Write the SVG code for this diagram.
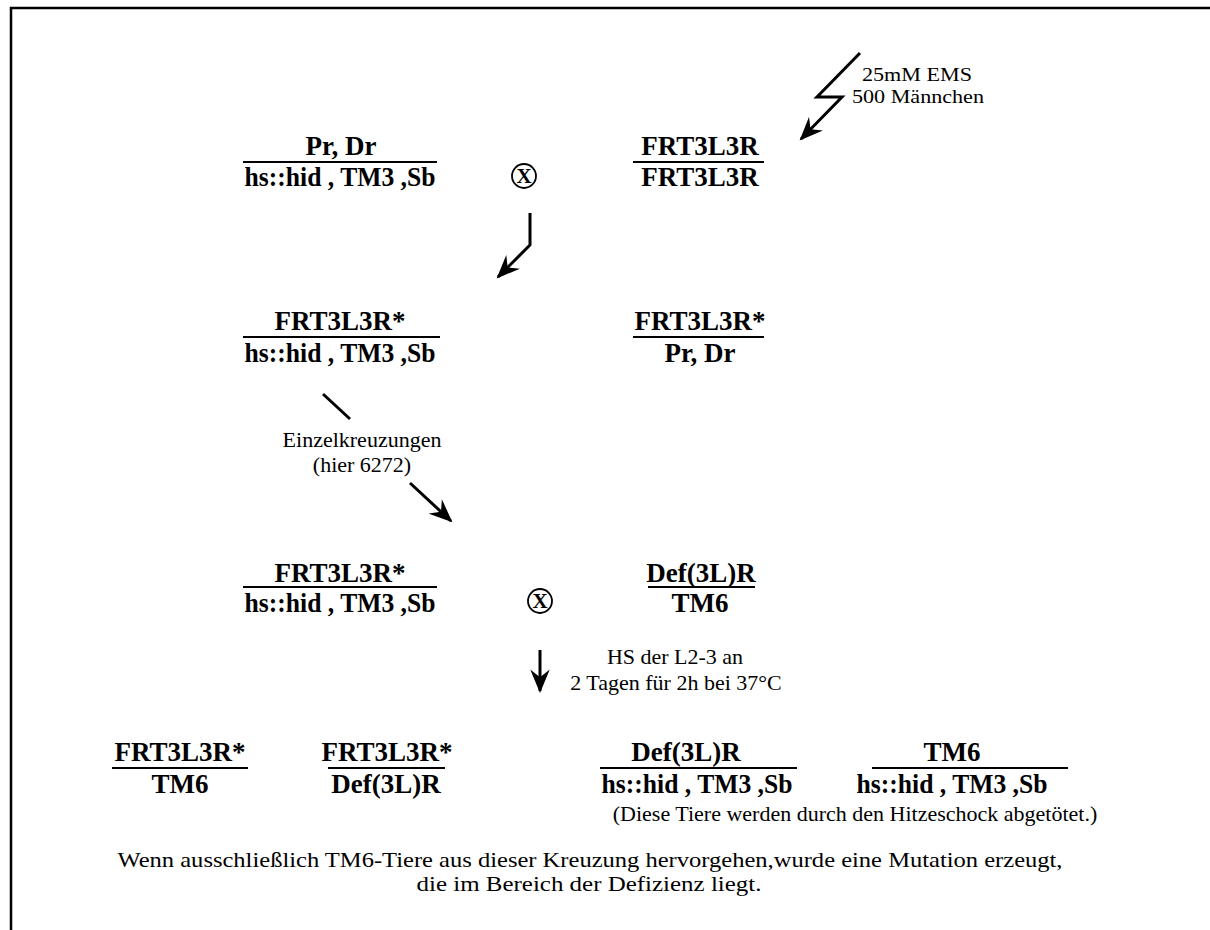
<svg xmlns="http://www.w3.org/2000/svg" width="1210" height="930" viewBox="0 0 1210 930">
  <defs>
    <style>
      .g { font-family: "Liberation Serif", "Times New Roman", serif; font-weight: bold; font-size: 27px; fill: #000; text-anchor: middle; }
      .t { font-family: "Liberation Serif", "Times New Roman", serif; font-size: 22px; fill: #000; text-anchor: middle; }
      .bar { stroke: #000; stroke-width: 2; }
      .conn { stroke: #000; stroke-width: 3; fill: none; }
      .x { fill: none; stroke: #000; stroke-width: 1.8; }
      .xl { font-family: "Liberation Serif", "Times New Roman", serif; font-weight: bold; font-size: 21px; text-anchor: middle; }
    </style>
    <marker id="head" viewBox="0 0 12 10" refX="11" refY="5" markerWidth="8" markerHeight="6.5" orient="auto" markerUnits="strokeWidth">
      <path d="M0,0 L12,5 L0,10 L4,5 z" fill="#000"/>
    </marker>
  </defs>

  <rect width="1210" height="930" fill="#fff"/>
  <!-- frame -->
  <path d="M11,930 V8 H1210" fill="none" stroke="#000" stroke-width="2.5"/>

  <!-- parental cross -->
  <g id="p-balancer">
    <text class="g" x="341" y="155">Pr, Dr</text>
    <line class="bar" x1="243" y1="162" x2="437" y2="162"/>
    <text class="g" x="340" y="186" textLength="191" lengthAdjust="spacingAndGlyphs">hs::hid , TM3 ,Sb</text>
  </g>
  <g id="cross-1">
    <circle class="x" cx="524" cy="176" r="12"/>
    <text class="xl" x="524" y="183">X</text>
  </g>
  <g id="p-frt">
    <text class="g" x="700" y="155">FRT3L3R</text>
    <line class="bar" x1="633" y1="162" x2="764" y2="162"/>
    <text class="g" x="700" y="186">FRT3L3R</text>
  </g>
  <g id="ems-label">
    <text class="t" x="917" y="81" style="font-size:19px" textLength="110" lengthAdjust="spacingAndGlyphs">25mM EMS</text>
    <text class="t" x="918" y="103" style="font-size:19px" textLength="132" lengthAdjust="spacingAndGlyphs">500 Männchen</text>
  </g>

  <!-- F1 -->
  <g id="f1-hid">
    <text class="g" x="340" y="330">FRT3L3R*</text>
    <line class="bar" x1="243" y1="337" x2="440" y2="337"/>
    <text class="g" x="340" y="362" textLength="191" lengthAdjust="spacingAndGlyphs">hs::hid , TM3 ,Sb</text>
  </g>
  <g id="f1-prdr">
    <text class="g" x="700" y="330">FRT3L3R*</text>
    <line class="bar" x1="633" y1="337" x2="764" y2="337"/>
    <text class="g" x="700" y="362">Pr, Dr</text>
  </g>
  <g id="single-cross-label">
    <text class="t" x="362" y="447">Einzelkreuzungen</text>
    <text class="t" x="362" y="472">(hier 6272)</text>
  </g>

  <!-- test cross -->
  <g id="f1-selected">
    <text class="g" x="340" y="582">FRT3L3R*</text>
    <line class="bar" x1="243" y1="587" x2="437" y2="587"/>
    <text class="g" x="340" y="612" textLength="191" lengthAdjust="spacingAndGlyphs">hs::hid , TM3 ,Sb</text>
  </g>
  <g id="cross-2">
    <circle class="x" cx="540" cy="601" r="12"/>
    <text class="xl" x="540" y="608">X</text>
  </g>
  <g id="deficiency">
    <text class="g" x="701" y="582">Def(3L)R</text>
    <line class="bar" x1="648" y1="587" x2="755" y2="587"/>
    <text class="g" x="700" y="612">TM6</text>
  </g>
  <g id="hs-label">
    <text class="t" x="675" y="664">HS der L2-3 an</text>
    <text class="t" x="676" y="690">2 Tagen für 2h bei 37°C</text>
  </g>

  <!-- progeny -->
  <g id="o-frt-tm6">
    <text class="g" x="180" y="761">FRT3L3R*</text>
    <line class="bar" x1="112" y1="768" x2="248" y2="768"/>
    <text class="g" x="180" y="793">TM6</text>
  </g>
  <g id="o-frt-def">
    <text class="g" x="387" y="761">FRT3L3R*</text>
    <line class="bar" x1="328" y1="768" x2="445" y2="768"/>
    <text class="g" x="386" y="793">Def(3L)R</text>
  </g>
  <g id="o-def-hid">
    <text class="g" x="686" y="761">Def(3L)R</text>
    <line class="bar" x1="600" y1="768" x2="797" y2="768"/>
    <text class="g" x="697" y="793" textLength="191" lengthAdjust="spacingAndGlyphs">hs::hid , TM3 ,Sb</text>
  </g>
  <g id="o-tm6-hid">
    <text class="g" x="952" y="761">TM6</text>
    <line class="bar" x1="872" y1="768" x2="1068" y2="768"/>
    <text class="g" x="952" y="793" textLength="191" lengthAdjust="spacingAndGlyphs">hs::hid , TM3 ,Sb</text>
  </g>
  <g id="killed-note">
    <text class="t" x="855" y="821">(Diese Tiere werden durch den Hitzeschock abgetötet.)</text>
  </g>

  <g id="conclusion">
    <text class="t" x="590" y="867" style="font-size:21.5px" textLength="945" lengthAdjust="spacingAndGlyphs">Wenn ausschließlich TM6-Tiere aus dieser Kreuzung hervorgehen,wurde eine Mutation erzeugt,</text>
    <text class="t" x="589" y="891" style="font-size:21.5px" textLength="345" lengthAdjust="spacingAndGlyphs">die im Bereich der Defizienz liegt.</text>
  </g>

  <!-- connectors -->
  <g id="connectors">
    <polyline class="conn" points="860,53 817,97 842,97 801,139" marker-end="url(#head)"/>
    <polyline class="conn" points="530,213 530,245 498,277" marker-end="url(#head)"/>
    <line class="conn" x1="323" y1="394" x2="350" y2="419"/>
    <line class="conn" x1="410" y1="483" x2="451" y2="521" marker-end="url(#head)"/>
    <line class="conn" x1="540" y1="650" x2="540" y2="691" marker-end="url(#head)"/>
  </g>
</svg>
